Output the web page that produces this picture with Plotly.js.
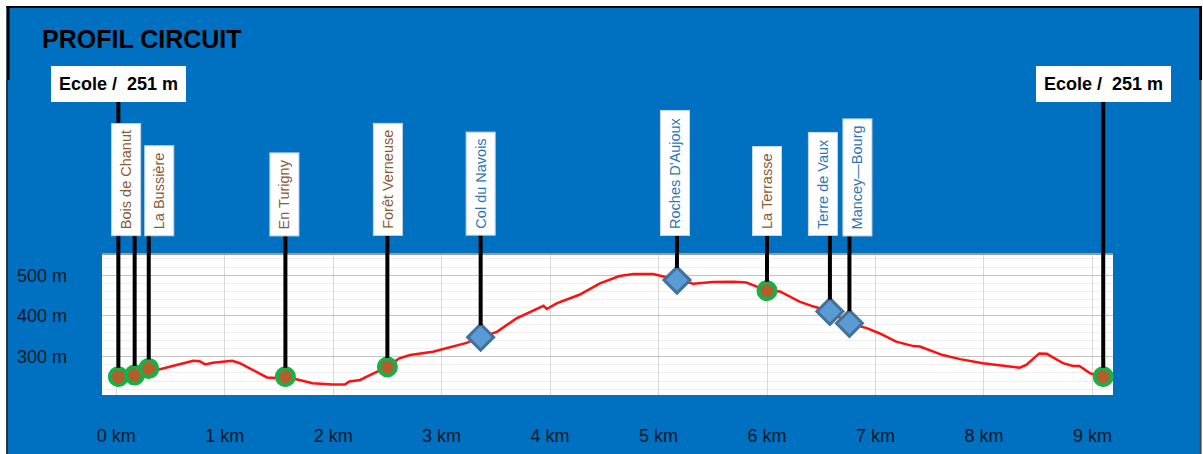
<!DOCTYPE html>
<html>
<head>
<meta charset="utf-8">
<script src="https://cdn.plot.ly/plotly-3.0.1.min.js"></script>
<style>html,body{margin:0;padding:0;background:#fff;}#chart{width:1203px;height:454px;}</style>
</head>
<body>
<div id="chart"></div>
<script>
// ---- data ----
var profileKm = [0.02,0.17,0.30,0.37,0.52,0.71,0.77,0.82,0.89,1.07,1.14,1.26,1.39,1.48,1.56,1.69,1.81,2.00,2.11,2.15,2.25,2.31,2.40,2.50,2.61,2.71,2.92,3.07,3.23,3.36,3.51,3.69,3.91,3.94,3.97,4.06,4.27,4.46,4.64,4.77,4.95,5.04,5.17,5.32,5.50,5.69,5.81,5.90,6.00,6.12,6.30,6.43,6.58,6.76,6.92,7.04,7.19,7.35,7.41,7.62,7.78,7.99,8.15,8.33,8.39,8.51,8.58,8.73,8.82,8.88,8.98,9.10];
var profileElev = [251,255,271,267,277,290,289,281,285,290,284,267,249,248,251,243,235,232,232,239,243,251,263,275,296,304,312,323,334,348,361,394,423,425,417,431,452,480,498,503,503,497,488,479,483,484,482,472,462,460,435,423,411,382,370,357,337,326,325,304,294,284,278,273,280,308,307,284,277,277,259,251];

var wpNames = ['Ecole', 'Bois de Chanut', 'La Bussière', 'En Turigny', 'Forêt Verneuse', 'Col du Navois', "Roches D'Aujoux", 'La Terrasse', 'Terre de Vaux', 'Mancey—Bourg', 'Ecole'];
var wpKm    = [0.02, 0.17, 0.30, 1.56, 2.50, 3.36, 5.17, 6.00, 6.58, 6.76, 9.10];
var wpElev  = [251, 255, 271, 251, 275, 348, 488, 462, 411, 382, 251];
var wpKind  = ['end', 'circle', 'circle', 'circle', 'circle', 'diamond', 'diamond', 'circle', 'diamond', 'diamond', 'end'];

var xTickVals = [0,1,2,3,4,5,6,7,8,9];
var xTickText = ['0 km','1 km','2 km','3 km','4 km','5 km','6 km','7 km','8 km','9 km'];
var yTickVals = [300,400,500];
var yTickText = ['300 m','400 m','500 m'];

// ---- layout helpers ----
var W = 1203, H = 454;
var M = {l: 102, r: 90, t: 254, b: 59};
var PW = W - M.l - M.r, PH = H - M.t - M.b;
function px2paperX(px){ return (px - M.l) / PW; }
function px2paperY(py){ return (H - M.b - py) / PH; }
var xRange = [-0.131, 9.19];
var yRange = [206, 552];
function paperY2data(p){ return yRange[0] + p * (yRange[1] - yRange[0]); }

var FONT = '"Liberation Sans", Arial, sans-serif';
var BROWN_TXT = '#8B5A34';
var BLUE_TXT = '#2E75B6';

// label box horizontal nudges (px) to avoid overlaps
var labelShift = [0, -9, 10, -1, 0, 0, -2, 0, -7, 8, 0];

var circX = [], circY = [], diaX = [], diaY = [];
wpKind.forEach(function(k, i){
  if (k === 'diamond') { diaX.push(wpKm[i]); diaY.push(wpElev[i]); }
  else { circX.push(wpKm[i]); circY.push(wpElev[i]); }
});

var traces = [
  {x: profileKm, y: profileElev, mode: 'lines', type: 'scatter',
   line: {color: '#FF1010', width: 2.5}, hoverinfo: 'skip', cliponaxis: false},
  {x: circX, y: circY, mode: 'markers', type: 'scatter', cliponaxis: false,
   marker: {symbol: 'circle', size: 17, color: '#B35E2C', line: {color: '#19B04A', width: 4}}},
  {x: diaX, y: diaY, mode: 'markers', type: 'scatter', cliponaxis: false,
   marker: {symbol: 'diamond', size: 20, color: '#5B9BD5', line: {color: '#41719C', width: 3}}}
];

var annotations = [];
// connector lines
wpKm.forEach(function(km, i){
  var isEnd = wpKind[i] === 'end';
  var tailPx = isEnd ? 96 : 230;
  annotations.push({
    x: km, y: wpElev[i], xref: 'x', yref: 'y',
    ax: km, ay: paperY2data(px2paperY(tailPx)), axref: 'x', ayref: 'y',
    showarrow: true, arrowhead: 0, arrowwidth: 4, arrowcolor: '#000',
    standoff: wpKind[i] === 'diamond' ? 12 : 9,
    text: ' ', font: {size: 1}, borderpad: 0
  });
});
// label boxes
wpKm.forEach(function(km, i){
  var k = wpKind[i];
  if (k === 'end') {
    annotations.push({
      x: km, xref: 'x', y: px2paperY(102), yref: 'paper',
      xanchor: 'center', yanchor: 'bottom', showarrow: false,
      text: wpNames[i] + ' /\u00a0 ' + wpElev[i] + ' m',
      font: {family: FONT, size: 18, color: '#000', weight: 700},
      bgcolor: '#FFFFFF', borderpad: 8, borderwidth: 0
    });
  } else {
    annotations.push({
      x: km, xref: 'x', y: px2paperY(236), yref: 'paper', xshift: labelShift[i],
      xanchor: 'center', yanchor: 'bottom', showarrow: false, textangle: -90,
      text: wpNames[i],
      font: {family: FONT, size: 14.5, color: k === 'diamond' ? BLUE_TXT : BROWN_TXT},
      bgcolor: '#FFFFFF', bordercolor: '#C9D6E8', borderwidth: 1, borderpad: 6
    });
  }
});

var shapes = [
  // white outer strips
  {type: 'rect', xref: 'paper', yref: 'paper', x0: px2paperX(-2), x1: px2paperX(1205), y0: px2paperY(-2), y1: px2paperY(6), fillcolor: '#FFFFFF', line: {width: 0}, layer: 'below'},
  {type: 'rect', xref: 'paper', yref: 'paper', x0: px2paperX(-2), x1: px2paperX(6.5), y0: px2paperY(456), y1: px2paperY(-2), fillcolor: '#FFFFFF', line: {width: 0}, layer: 'below'},
  {type: 'rect', xref: 'paper', yref: 'paper', x0: px2paperX(1201.5), x1: px2paperX(1205), y0: px2paperY(456), y1: px2paperY(-2), fillcolor: '#FFFFFF', line: {width: 0}, layer: 'below'},
  // black borders
  {type: 'line', xref: 'paper', yref: 'paper', x0: px2paperX(6.5), x1: px2paperX(1202), y0: px2paperY(7), y1: px2paperY(7), line: {color: '#000', width: 2}},
  {type: 'line', xref: 'paper', yref: 'paper', x0: px2paperX(8), x1: px2paperX(8), y0: px2paperY(6), y1: px2paperY(80), line: {color: '#000', width: 3}},
  {type: 'line', xref: 'paper', yref: 'paper', x0: px2paperX(7), x1: px2paperX(7), y0: px2paperY(80), y1: px2paperY(455), line: {color: '#1a1a1a', width: 1.5}},
  {type: 'line', xref: 'paper', yref: 'paper', x0: px2paperX(1200.5), x1: px2paperX(1200.5), y0: px2paperY(6), y1: px2paperY(80), line: {color: '#000', width: 3}},
  {type: 'line', xref: 'paper', yref: 'paper', x0: px2paperX(1200.5), x1: px2paperX(1200.5), y0: px2paperY(80), y1: px2paperY(455), line: {color: '#444', width: 1.5}},
  // plot top border
  {type: 'line', xref: 'paper', yref: 'paper', x0: 0, x1: 1, y0: 1, y1: 1, line: {color: '#9A9A9A', width: 2}}
];

var layout = {
  width: W, height: H,
  margin: {l: M.l, r: M.r, t: M.t, b: M.b, pad: 0},
  paper_bgcolor: '#0070C0',
  plot_bgcolor: '#FFFFFF',
  showlegend: false,
  hovermode: false,
  title: {text: 'PROFIL CIRCUIT', x: 42 / W, xanchor: 'left', xref: 'container',
          y: 1 - 39 / H, yanchor: 'middle', yref: 'container',
          font: {family: FONT, size: 25, color: '#000', weight: 700}},
  xaxis: {range: xRange, tickmode: 'array', tickvals: xTickVals, ticktext: xTickText,
          showgrid: true, gridcolor: '#D9D9D9', gridwidth: 1, zeroline: false, showline: false,
          ticks: '', ticklabelstandoff: 28, fixedrange: true,
          tickfont: {family: FONT, size: 18, color: '#0B1A2A'}},
  yaxis: {range: yRange, tickmode: 'array', tickvals: yTickVals, ticktext: yTickText,
          showgrid: true, gridcolor: '#C4C4C4', gridwidth: 1, zeroline: false, showline: false,
          ticks: '', ticklabelstandoff: 34, fixedrange: true,
          minor: {tickmode: 'linear', tick0: 0, dtick: 20, showgrid: true, gridcolor: '#F0F0F0', ticks: ''},
          tickfont: {family: FONT, size: 18, color: '#0B1A2A'}},
  shapes: shapes,
  annotations: annotations
};

Plotly.newPlot('chart', traces, layout, {displayModeBar: false, staticPlot: true});
</script>
</body>
</html>
